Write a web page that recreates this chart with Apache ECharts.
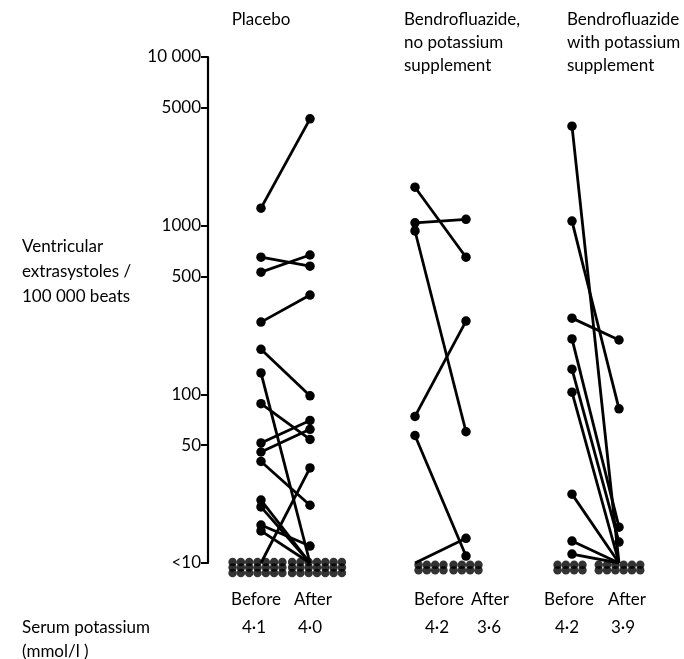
<!DOCTYPE html>
<html><head><meta charset="utf-8">
<script src="https://cdn.jsdelivr.net/npm/echarts@6/dist/echarts.min.js"></script>
<style>html,body{margin:0;padding:0;background:#fff}#c{width:684px;height:659px}</style>
</head><body><div id="c"></div><script>
// ---------- data ----------
const LT = null; // "<10" (below detection)
const groupTitles = [['Placebo'], ['Bendrofluazide,', 'no potassium', 'supplement'], ['Bendrofluazide', 'with potassium', 'supplement']];
const periodLabels = ['Before', 'After'];
const tickValues = [10, 50, 100, 500, 1000, 5000, 10000];
const tickLabels = ['<10', '50', '100', '500', '1000', '5000', '10 000'];
const yTitle = ['Ventricular', 'extrasystoles /', '100 000 beats'];
const serumTitle = ['Serum potassium', '(mmol/l )'];
const placeboBefore = [1270, 650, 530, 268, 185, 134, 88, 51.5, 45.5, 40, LT, 23.6, 21.5, 16.8, 15.5];
const placeboAfter  = [4300, 575, 670, 388, 98, LT, 54, 70, 62, 22, 36.6, LT, LT, 12.6, LT];
const noKBefore = [1690, 1040, 930, 74, 57, LT];
const noKAfter  = [650, 1090, 60, 272, 11, 14];
const withKBefore = [3890, 1065, 283, 213, 141, 103, 25.6, 13.5, 11.3];
const withKAfter  = [LT, 82, 210, 16.3, 13.3, LT, LT, LT, LT];
const belowTenCounts = [[21, 21], [8, 8], [8, 12]];
const serumPotassium = [['4·1', '4·0'], ['4·2', '3·6'], ['4·2', '3·9']];

// ---------- layout ----------
const FONT = 'Lato';
const FS = 17;
const pairX = [[0, 0.98], [3.08, 4.1], [6.22, 7.16]];
const clusterX = [[-0.07, 1.12], [3.4, 4.1], [6.18, 7.17]];
const clusterCols = [[7, 7], [4, 4], [4, 6]];
const colStep = 0.166, rowStep = 0.0326, clusterMid = 1 - 0.0267;
const groups = [[placeboBefore, placeboAfter], [noKBefore, noKAfter], [withKBefore, withKAfter]];
const lg = v => (v === LT ? 1 : Math.log10(v));

const series = [];
groups.forEach((g, gi) => {
  const [bef, aft] = g;
  bef.forEach((b, i) => {
    const a = aft[i];
    series.push({
      type: 'line', silent: true, animation: false,
      lineStyle: { color: '#000', width: 2.8 },
      itemStyle: { color: '#000' },
      symbol: 'circle',
      data: [
        { value: [pairX[gi][0], lg(b)], symbolSize: b === LT ? 0 : 9.5 },
        { value: [pairX[gi][1], lg(a)], symbolSize: a === LT ? 0 : 9.5 }
      ]
    });
  });
  [0, 1].forEach(p => {
    const n = belowTenCounts[gi][p], cols = clusterCols[gi][p];
    const rows = Math.ceil(n / cols);
    const pts = [];
    for (let k = 0; k < n; k++) {
      const c = k % cols, r = Math.floor(k / cols);
      pts.push([clusterX[gi][p] + (c - (cols - 1) / 2) * colStep,
                clusterMid - (r - (rows - 1) / 2) * rowStep]);
    }
    series.push({ type: 'scatter', silent: true, animation: false, clip: false,
      symbol: 'circle', symbolSize: 8.5, itemStyle: { color: '#000' }, data: pts });
  });
});

// ---------- texts ----------
const txt = (s, x, y, align) => ({ type: 'text', x, y, style: { text: s, fill: '#000', font: `${FS}px "${FONT}"`, align: align || 'left', verticalAlign: 'middle' } });
const graphics = [];
graphics.push(txt(groupTitles[0][0], 261, 20, 'center'));
groupTitles[1].forEach((s, i) => graphics.push(txt(s, 404, 20 + i * 23)));
groupTitles[2].forEach((s, i) => graphics.push(txt(s, 567, 20 + i * 23)));
yTitle.forEach((s, i) => graphics.push(txt(s, 22, 247 + i * 25)));
const periodX = [[256, 313], [439, 490], [569, 627]];
const kX = [[254, 310], [437, 489], [567, 623]];
periodX.forEach((px, gi) => {
  graphics.push(txt(periodLabels[0], px[0], 600, 'center'));
  graphics.push(txt(periodLabels[1], px[1], 600, 'center'));
  graphics.push(txt(serumPotassium[gi][0], kX[gi][0], 628, 'center'));
  graphics.push(txt(serumPotassium[gi][1], kX[gi][1], 628, 'center'));
});
graphics.push(txt(serumTitle[0], 22, 628));
graphics.push(txt(serumTitle[1], 22, 652));

const chart = echarts.init(document.getElementById('c'), null, { renderer: 'canvas' });
chart.setOption({
  animation: false,
  backgroundColor: '#fff',
  grid: { left: 208, right: 23, top: 57, bottom: 96, containLabel: false },
  xAxis: { type: 'value', min: -1.06, max: 8, show: false },
  yAxis: {
    type: 'value', min: 1, max: 4,
    axisLine: { show: true, onZero: false, lineStyle: { color: '#000', width: 2.2 } },
    axisTick: { show: true, length: 7, lineStyle: { color: '#000', width: 2 }, customValues: tickValues.map(Math.log10) },
    axisLabel: {
      customValues: tickValues.map(Math.log10), color: '#000', fontSize: FS, fontFamily: FONT, margin: 7,
      formatter: v => { const i = tickValues.findIndex(t => Math.abs(Math.log10(t) - v) < 1e-6); return i >= 0 ? tickLabels[i] : ''; }
    },
    splitLine: { show: false }
  },
  series,
  graphic: graphics
});
</script></body></html>
